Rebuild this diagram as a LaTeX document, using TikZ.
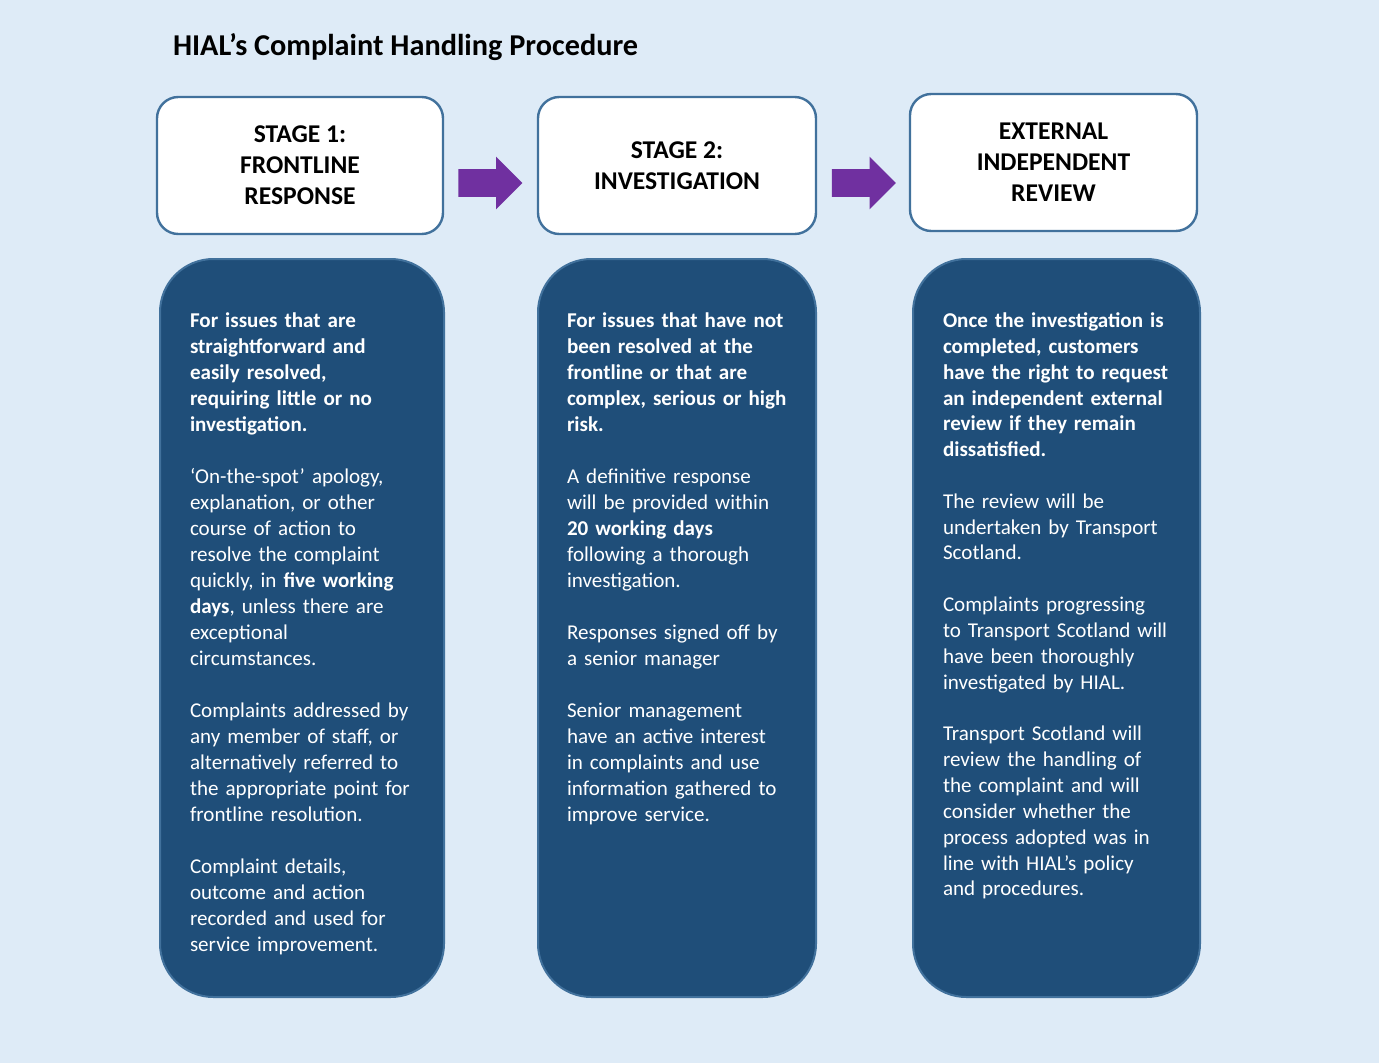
\documentclass[tikz,border=0pt]{standalone}
\usepackage{fontspec}
\setmainfont{Carlito}
\usetikzlibrary{shapes.arrows}

\definecolor{bgblue}{HTML}{DEEBF7}
\definecolor{edgeblue}{HTML}{41719C}
\definecolor{panelblue}{HTML}{1F4E79}
\definecolor{arrowpurple}{HTML}{7030A0}

\newcommand{\blankline}{\\[19.5pt]}

\begin{document}
\begin{tikzpicture}[x=0.75pt, y=-0.75pt]
\tikzset{ >=latex, inner sep=0pt, outer sep=0pt,
  head/.style={draw=edgeblue, line width=1.8pt, fill=white, rounded corners=16pt,
    align=center, minimum height=102.75pt, font=\fontsize{19.2}{23.25}\selectfont\bfseries},
  panel/.style={draw=edgeblue, line width=1.5pt, fill=panelblue, rounded corners=40pt,
    minimum height=553.5pt},
  body/.style={text=white, align=left, text width=195pt, anchor=base west,
    font=\fontsize{15.8}{19.5}\selectfont},
  blockarrow/.style={single arrow, fill=arrowpurple, single arrow head extend=9.375pt,
    minimum height=48pt, inner xsep=0pt, inner ysep=10.125pt},
}

\useasboundingbox (0,0) rectangle (1379,1063);
\fill [bgblue] (0,0) rectangle (1379,1063);

%\draw [lightgray, dashed](0,0) grid [step=100] (1379,1063);

\node [anchor=base west, font=\fontsize{22.7}{28}\selectfont\bfseries] (TITLE) at (173,56)
  {HIAL’s Complaint Handling Procedure};

\node [head, minimum width=214.5pt] (S1) at (300,165.5) {STAGE 1:\\ FRONTLINE\\ RESPONSE};
\node [head, minimum width=208.5pt] (S2) at (677,165.5) {STAGE 2:\\ INVESTIGATION};
\node [head, minimum width=215.25pt] (EXT) at (1053.5,162.5) {EXTERNAL\\ INDEPENDENT\\ REVIEW};

\node [blockarrow] (A1) at (483.5,183) {};
\node [blockarrow] (A2) at (857,183) {};

\node [panel, minimum width=213pt] (B1) at (302,628) {};
\node [panel, minimum width=208.5pt] (B2) at (677,628) {};
\node [panel, minimum width=215.25pt] (B3) at (1056.5,628) {};

\node [body] (T1) at (190,327.5) {\textbf{For issues that are}\\
  \textbf{straightforward and}\\ \textbf{easily resolved,}\\
  \textbf{requiring little or no}\\ \textbf{investigation.}\blankline
  ‘On-the-spot’ apology,\\ explanation, or other\\ course of action to\\
  resolve the complaint\\ quickly, in \textbf{five working}\\
  \textbf{days}, unless there are\\ exceptional\\ circumstances.\blankline
  Complaints addressed by\\ any member of staff, or\\ alternatively referred to\\
  the appropriate point for\\ frontline resolution.\blankline
  Complaint details,\\ outcome and action\\ recorded and used for\\
  service improvement.};

\node [body] (T2) at (567,327.5) {\textbf{For issues that have not}\\
  \textbf{been resolved at the}\\ \textbf{frontline or that are}\\
  \textbf{complex, serious or high}\\ \textbf{risk.}\blankline
  A definitive response\\ will be provided within\\ \textbf{20 working days}\\
  following a thorough\\ investigation.\blankline
  Responses signed off by\\ a senior manager\blankline
  Senior management\\ have an active interest\\ in complaints and use\\
  information gathered to\\ improve service.};

\node [body, font=\fontsize{15.8}{19.4}\selectfont] (T3) at (943,327.5) {\textbf{Once the investigation is}\\
  \textbf{completed, customers}\\ \textbf{have the right to request}\\
  \textbf{an independent external}\\ \textbf{review if they remain}\\
  \textbf{dissatisfied.}\\[19.1pt]
  The review will be\\ undertaken by Transport\\ Scotland.\\[19.3pt]
  Complaints progressing\\ to Transport Scotland will\\ have been thoroughly\\
  investigated by HIAL.\\[19.3pt]
  Transport Scotland will\\ review the handling of\\ the complaint and will\\
  consider whether the\\ process adopted was in\\ line with HIAL’s policy\\
  and procedures.};

\end{tikzpicture}
\end{document}
